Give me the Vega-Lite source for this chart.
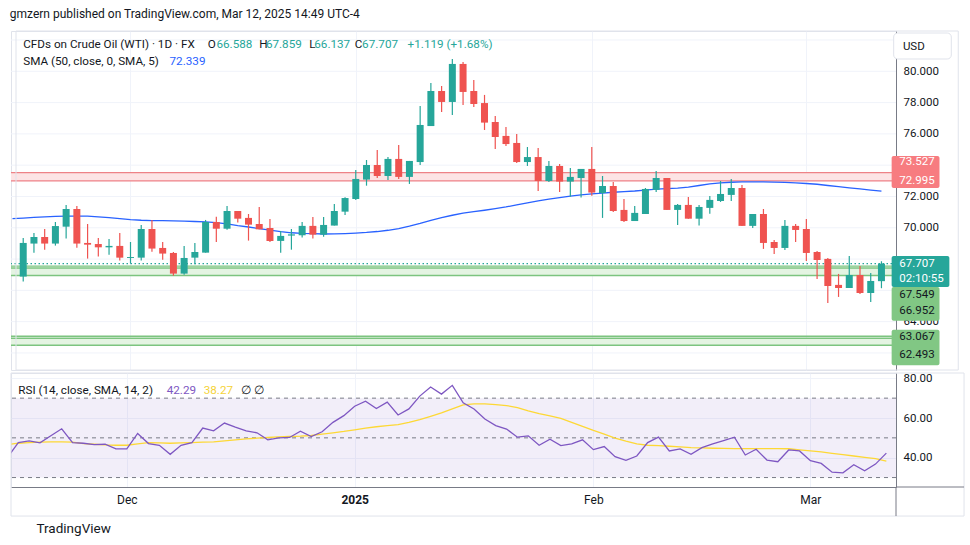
{
  "$schema": "https://vega.github.io/schema/vega-lite/v6.json",
  "background": "white",
  "padding": {"left": 9, "top": 8, "right": 0, "bottom": 0},
  "title": {"text": "gmzern published on TradingView.com, Mar 12, 2025 14:49 UTC-4", "anchor": "start", "fontSize": 12, "fontWeight": "normal", "color": "#131722", "font": "Roboto", "offset": 9},
  "config": {"font": "Roboto", "view": {"stroke": "#E0E3EB"}, "axis": {"labelFont": "Roboto"}, "text": {"font": "Roboto"}},
  "spacing": 0,
  "datasets": {
    "ohlc": [
      {"i":0,"d":"2024-11-15","sma":70.58,"rsi":40.1,"rma":46.6},
      {"i":1,"d":"2024-11-18","o":66.88,"h":69.35,"l":66.56,"c":69.03,"sma":70.62,"rsi":47.63,"rma":47.29},
      {"i":2,"d":"2024-11-19","o":68.99,"h":69.67,"l":68.41,"c":69.41,"sma":70.66,"rsi":48.48,"rma":47.63},
      {"i":3,"d":"2024-11-20","o":69.41,"h":69.92,"l":68.60,"c":68.99,"sma":70.70,"rsi":47.46,"rma":47.80},
      {"i":4,"d":"2024-11-21","o":68.99,"h":70.37,"l":68.86,"c":70.11,"sma":70.73,"rsi":51.02,"rma":47.97},
      {"i":5,"d":"2024-11-22","o":70.07,"h":71.46,"l":69.31,"c":71.20,"sma":70.75,"rsi":54.58,"rma":47.97},
      {"i":6,"d":"2024-11-25","o":71.20,"h":71.39,"l":68.73,"c":68.99,"sma":70.75,"rsi":47.63,"rma":47.80},
      {"i":7,"d":"2024-11-26","o":69.03,"h":70.24,"l":68.03,"c":68.92,"sma":70.74,"rsi":47.29,"rma":47.12},
      {"i":8,"d":"2024-11-27","o":68.96,"h":69.35,"l":68.16,"c":68.75,"sma":70.70,"rsi":46.61,"rma":46.78},
      {"i":9,"d":"2024-11-28","o":68.75,"h":69.28,"l":68.28,"c":68.84,"sma":70.65,"rsi":46.78,"rma":46.44},
      {"i":10,"d":"2024-11-29","o":68.84,"h":69.67,"l":67.90,"c":68.09,"sma":70.58,"rsi":44.41,"rma":46.27},
      {"i":11,"d":"2024-12-02","o":68.07,"h":69.09,"l":67.71,"c":68.13,"sma":70.52,"rsi":44.41,"rma":46.27},
      {"i":12,"d":"2024-12-03","o":68.09,"h":70.18,"l":67.90,"c":69.92,"sma":70.48,"rsi":52.21,"rma":46.95},
      {"i":13,"d":"2024-12-04","o":69.92,"h":70.50,"l":68.47,"c":68.67,"sma":70.46,"rsi":47.12,"rma":47.63},
      {"i":14,"d":"2024-12-05","o":68.71,"h":69.09,"l":67.96,"c":68.35,"sma":70.45,"rsi":46.27,"rma":47.46},
      {"i":15,"d":"2024-12-06","o":68.39,"h":68.45,"l":66.94,"c":67.07,"sma":70.44,"rsi":41.70,"rma":47.29},
      {"i":16,"d":"2024-12-09","o":67.07,"h":68.84,"l":67.00,"c":68.07,"sma":70.42,"rsi":46.27,"rma":47.46},
      {"i":17,"d":"2024-12-10","o":68.09,"h":69.03,"l":67.67,"c":68.45,"sma":70.40,"rsi":47.63,"rma":47.63},
      {"i":18,"d":"2024-12-11","o":68.41,"h":70.50,"l":68.41,"c":70.37,"sma":70.38,"rsi":54.92,"rma":47.80},
      {"i":19,"d":"2024-12-12","o":70.37,"h":70.71,"l":69.09,"c":69.94,"sma":70.33,"rsi":53.56,"rma":47.97},
      {"i":20,"d":"2024-12-13","o":69.94,"h":71.39,"l":69.88,"c":71.07,"sma":70.25,"rsi":57.46,"rma":48.48},
      {"i":21,"d":"2024-12-16","o":71.07,"h":71.07,"l":70.33,"c":70.58,"sma":70.14,"rsi":55.43,"rma":48.99},
      {"i":22,"d":"2024-12-17","o":70.63,"h":70.88,"l":69.18,"c":70.20,"sma":70.05,"rsi":53.56,"rma":49.50},
      {"i":23,"d":"2024-12-18","o":70.24,"h":71.33,"l":69.90,"c":69.90,"sma":69.95,"rsi":52.55,"rma":49.83},
      {"i":24,"d":"2024-12-19","o":69.99,"h":70.56,"l":69.09,"c":69.16,"sma":69.85,"rsi":49.00,"rma":50.17},
      {"i":25,"d":"2024-12-20","o":69.16,"h":69.80,"l":68.41,"c":69.48,"sma":69.75,"rsi":50.02,"rma":50.51},
      {"i":26,"d":"2024-12-23","o":69.50,"h":69.92,"l":68.60,"c":69.58,"sma":69.68,"rsi":50.19,"rma":50.68},
      {"i":27,"d":"2024-12-24","o":69.52,"h":70.37,"l":69.37,"c":70.12,"sma":69.64,"rsi":53.39,"rma":50.85},
      {"i":28,"d":"2024-12-26","o":70.12,"h":70.69,"l":69.31,"c":69.56,"sma":69.62,"rsi":50.68,"rma":51.19},
      {"i":29,"d":"2024-12-27","o":69.56,"h":70.69,"l":69.43,"c":70.18,"sma":69.60,"rsi":53.05,"rma":51.87},
      {"i":30,"d":"2024-12-30","o":70.14,"h":71.52,"l":70.14,"c":71.07,"sma":69.61,"rsi":57.80,"rma":52.55},
      {"i":31,"d":"2024-12-31","o":71.03,"h":71.95,"l":70.82,"c":71.90,"sma":69.63,"rsi":61.19,"rma":53.22},
      {"i":32,"d":"2025-01-02","o":71.84,"h":73.69,"l":71.78,"c":73.12,"sma":69.66,"rsi":65.94,"rma":54.07},
      {"i":33,"d":"2025-01-03","o":73.08,"h":74.33,"l":72.69,"c":74.01,"sma":69.70,"rsi":68.48,"rma":54.92},
      {"i":34,"d":"2025-01-06","o":74.01,"h":74.97,"l":73.18,"c":73.31,"sma":69.76,"rsi":64.75,"rma":55.60},
      {"i":35,"d":"2025-01-07","o":73.31,"h":74.52,"l":73.05,"c":74.40,"sma":69.84,"rsi":67.97,"rma":56.11},
      {"i":36,"d":"2025-01-08","o":74.40,"h":75.29,"l":73.12,"c":73.25,"sma":69.95,"rsi":61.53,"rma":56.61},
      {"i":37,"d":"2025-01-09","o":73.25,"h":74.27,"l":72.80,"c":74.27,"sma":70.10,"rsi":64.58,"rma":57.80},
      {"i":38,"d":"2025-01-10","o":74.20,"h":77.78,"l":74.01,"c":76.57,"sma":70.28,"rsi":71.02,"rma":59.16},
      {"i":39,"d":"2025-01-13","o":76.50,"h":79.25,"l":76.50,"c":78.74,"sma":70.48,"rsi":75.60,"rma":60.85},
      {"i":40,"d":"2025-01-14","o":78.74,"h":79.06,"l":77.40,"c":78.04,"sma":70.65,"rsi":72.04,"rma":62.55},
      {"i":41,"d":"2025-01-15","o":78.04,"h":80.79,"l":77.21,"c":80.47,"sma":70.80,"rsi":76.44,"rma":64.58},
      {"i":42,"d":"2025-01-16","o":80.47,"h":80.59,"l":77.85,"c":78.68,"sma":70.93,"rsi":67.63,"rma":66.61},
      {"i":43,"d":"2025-01-17","o":78.74,"h":79.44,"l":77.72,"c":77.91,"sma":71.03,"rsi":64.58,"rma":67.12},
      {"i":44,"d":"2025-01-20","o":77.97,"h":78.49,"l":76.25,"c":76.72,"sma":71.12,"rsi":59.50,"rma":67.12},
      {"i":45,"d":"2025-01-21","o":76.76,"h":77.14,"l":75.04,"c":75.80,"sma":71.22,"rsi":56.20,"rma":66.78},
      {"i":46,"d":"2025-01-22","o":75.87,"h":76.44,"l":75.23,"c":75.35,"sma":71.33,"rsi":54.41,"rma":66.27},
      {"i":47,"d":"2025-01-23","o":75.42,"h":75.99,"l":74.14,"c":74.20,"sma":71.46,"rsi":50.34,"rma":65.26},
      {"i":48,"d":"2025-01-24","o":74.20,"h":75.16,"l":73.95,"c":74.52,"sma":71.59,"rsi":51.02,"rma":63.56},
      {"i":49,"d":"2025-01-27","o":74.52,"h":75.10,"l":72.35,"c":72.99,"sma":71.72,"rsi":46.27,"rma":62.21},
      {"i":50,"d":"2025-01-28","o":72.99,"h":74.27,"l":72.93,"c":73.95,"sma":71.83,"rsi":49.33,"rma":61.02},
      {"i":51,"d":"2025-01-29","o":73.95,"h":74.08,"l":72.29,"c":72.95,"sma":71.93,"rsi":46.11,"rma":59.83},
      {"i":52,"d":"2025-01-30","o":72.95,"h":73.82,"l":71.99,"c":73.25,"sma":72.02,"rsi":46.95,"rma":57.80},
      {"i":53,"d":"2025-01-31","o":73.18,"h":73.76,"l":71.93,"c":73.76,"sma":72.10,"rsi":48.99,"rma":55.77},
      {"i":54,"d":"2025-02-03","o":73.76,"h":75.16,"l":72.05,"c":72.25,"sma":72.17,"rsi":44.07,"rma":53.73},
      {"i":55,"d":"2025-02-04","o":72.22,"h":73.31,"l":70.63,"c":72.67,"sma":72.22,"rsi":45.60,"rma":51.87},
      {"i":56,"d":"2025-02-05","o":72.67,"h":72.93,"l":71.01,"c":71.07,"sma":72.27,"rsi":40.51,"rma":49.83},
      {"i":57,"d":"2025-02-06","o":71.14,"h":71.84,"l":70.37,"c":70.43,"sma":72.31,"rsi":38.65,"rma":48.31},
      {"i":58,"d":"2025-02-07","o":70.43,"h":71.39,"l":70.43,"c":70.95,"sma":72.35,"rsi":40.85,"rma":46.95},
      {"i":59,"d":"2025-02-10","o":70.88,"h":72.54,"l":70.88,"c":72.48,"sma":72.41,"rsi":47.63,"rma":46.27},
      {"i":60,"d":"2025-02-11","o":72.42,"h":73.63,"l":72.29,"c":73.18,"sma":72.47,"rsi":50.34,"rma":46.11},
      {"i":61,"d":"2025-02-12","o":73.18,"h":73.18,"l":71.14,"c":71.14,"sma":72.50,"rsi":43.39,"rma":45.77},
      {"i":62,"d":"2025-02-13","o":71.14,"h":71.52,"l":70.18,"c":71.46,"sma":72.53,"rsi":44.41,"rma":45.43},
      {"i":63,"d":"2025-02-14","o":71.46,"h":71.97,"l":70.58,"c":70.58,"sma":72.60,"rsi":41.70,"rma":45.09},
      {"i":64,"d":"2025-02-17","o":70.58,"h":71.46,"l":70.14,"c":71.33,"sma":72.70,"rsi":45.09,"rma":44.92},
      {"i":65,"d":"2025-02-18","o":71.27,"h":72.03,"l":70.90,"c":71.78,"sma":72.80,"rsi":46.95,"rma":44.75},
      {"i":66,"d":"2025-02-19","o":71.71,"h":72.99,"l":71.65,"c":72.16,"sma":72.87,"rsi":48.65,"rma":44.66},
      {"i":67,"d":"2025-02-20","o":72.10,"h":73.12,"l":71.71,"c":72.54,"sma":72.91,"rsi":50.34,"rma":44.62},
      {"i":68,"d":"2025-02-21","o":72.54,"h":72.73,"l":70.12,"c":70.12,"sma":72.93,"rsi":41.36,"rma":44.62},
      {"i":69,"d":"2025-02-24","o":70.12,"h":70.88,"l":69.99,"c":70.88,"sma":72.93,"rsi":44.24,"rma":44.60},
      {"i":70,"d":"2025-02-25","o":70.88,"h":71.20,"l":68.65,"c":69.03,"sma":72.93,"rsi":38.82,"rma":44.58},
      {"i":71,"d":"2025-02-26","o":69.09,"h":69.22,"l":68.33,"c":68.71,"sma":72.92,"rsi":37.97,"rma":44.58},
      {"i":72,"d":"2025-02-27","o":68.71,"h":70.50,"l":68.58,"c":70.12,"sma":72.90,"rsi":43.90,"rma":44.50},
      {"i":73,"d":"2025-02-28","o":70.12,"h":70.24,"l":69.09,"c":69.86,"sma":72.87,"rsi":43.39,"rma":43.90},
      {"i":74,"d":"2025-03-03","o":69.92,"h":70.56,"l":67.88,"c":68.39,"sma":72.83,"rsi":38.48,"rma":43.39},
      {"i":75,"d":"2025-03-04","o":68.45,"h":68.52,"l":66.73,"c":67.94,"sma":72.78,"rsi":37.12,"rma":42.89},
      {"i":76,"d":"2025-03-05","o":68.01,"h":68.07,"l":65.19,"c":66.28,"sma":72.70,"rsi":32.72,"rma":42.21},
      {"i":77,"d":"2025-03-06","o":66.35,"h":67.05,"l":65.58,"c":66.15,"sma":72.63,"rsi":32.38,"rma":41.53},
      {"i":78,"d":"2025-03-07","o":66.15,"h":68.20,"l":66.15,"c":66.98,"sma":72.55,"rsi":36.44,"rma":40.85},
      {"i":79,"d":"2025-03-10","o":66.98,"h":67.56,"l":65.77,"c":65.83,"sma":72.48,"rsi":33.39,"rma":40.17},
      {"i":80,"d":"2025-03-11","o":65.83,"h":67.11,"l":65.26,"c":66.60,"sma":72.41,"rsi":36.78,"rma":39.50},
      {"i":81,"d":"2025-03-12","o":66.588,"h":67.859,"l":66.137,"c":67.707,"sma":72.339,"rsi":42.29,"rma":38.27}
    ],
    "zones": [
      {"lo":72.995,"hi":73.527,"kind":"res"},
      {"lo":66.952,"hi":67.43,"kind":"sup"},
      {"lo":62.493,"hi":62.94,"kind":"sup"}
    ],
    "zonelines": [
      {"v":73.527,"kind":"res"},{"v":72.995,"kind":"res"},
      {"v":67.549,"kind":"sup"},{"v":67.43,"kind":"sup"},{"v":66.952,"kind":"sup"},
      {"v":63.067,"kind":"sup"},{"v":62.94,"kind":"sup"},{"v":62.493,"kind":"sup"}
    ],
    "pricegrid": [{"v":62},{"v":64},{"v":66},{"v":68},{"v":70},{"v":72},{"v":74},{"v":76},{"v":78},{"v":80},{"v":82}]
  },
  "vconcat": [
    {
      "width": 885,
      "height": 339,
      "layer": [
        {
          "data": {"name": "pricegrid"},
          "mark": {"type": "rule", "stroke": "#F0F3FA", "strokeWidth": 1},
          "encoding": {
            "y": {"field": "v", "type": "quantitative", "scale": {"domain": [60.91, 82.575], "nice": false, "zero": false},
                  "axis": {"orient": "right", "values": [64,70,72,76,78,80], "format": ".3f", "title": null, "grid": false, "ticks": false, "domain": true, "domainColor": "#787B86", "labelPadding": 7, "labelFontSize": 11.5, "labelColor": "#131722", "labelAlign": "left", "labelOverlap": false, "labelBound": false}}
          }
        },
        {
          "data": {"name": "zones"},
          "mark": {"type": "rect"},
          "encoding": {
            "y": {"field": "lo", "type": "quantitative", "title": null},
            "y2": {"field": "hi"},
            "fill": {"condition": {"test": "datum.kind == 'res'", "value": "#FDE4E5"}, "value": "#E4F4E2"}
          }
        },
        {
          "data": {"name": "ohlc"},
          "mark": {"type": "rule", "opacity": 0},
          "encoding": {
            "x": {"field": "i", "type": "quantitative", "scale": {"domain": [0.327, 81.89], "nice": false, "zero": false},
                  "axis": {"values": [11, 32, 54, 74], "labels": false, "ticks": false, "domain": false, "grid": true, "gridColor": "#F0F3FA", "title": null}},
            "y": {"field": "c", "type": "quantitative", "title": null}
          }
        },
        {
          "data": {"name": "zonelines"},
          "mark": {"type": "rule", "strokeWidth": 1.4},
          "encoding": {
            "y": {"field": "v", "type": "quantitative", "title": null},
            "color": {"condition": {"test": "datum.kind == 'res'", "value": "#EE8287"}, "value": "#7CC47F"}
          }
        },
        {
          "data": {"values": [{}]},
          "mark": {"type": "rule", "stroke": "#26A69A", "strokeWidth": 1.4, "strokeDash": [1.5, 2.5]},
          "encoding": {"y": {"datum": 67.707, "type": "quantitative"}}
        },
        {
          "data": {"name": "ohlc"},
          "mark": {"type": "line", "stroke": "#2962FF", "strokeWidth": 1.3, "clip": true},
          "encoding": {
            "x": {"field": "i", "type": "quantitative"},
            "y": {"field": "sma", "type": "quantitative", "title": null}
          }
        },
        {
          "data": {"name": "ohlc"},
          "transform": [{"filter": "isValid(datum.o)"}],
          "mark": {"type": "rule", "strokeWidth": 1.2},
          "encoding": {
            "x": {"field": "i", "type": "quantitative"},
            "y": {"field": "l", "type": "quantitative", "title": null},
            "y2": {"field": "h"},
            "color": {"condition": {"test": "datum.c >= datum.o", "value": "#26A69A"}, "value": "#EF5350"}
          }
        },
        {
          "data": {"name": "ohlc"},
          "transform": [{"filter": "isValid(datum.o)"}],
          "mark": {"type": "bar", "size": 7},
          "encoding": {
            "x": {"field": "i", "type": "quantitative"},
            "y": {"field": "o", "type": "quantitative", "title": null},
            "y2": {"field": "c"},
            "color": {"condition": {"test": "datum.c >= datum.o", "value": "#26A69A"}, "value": "#EF5350"}
          }
        },
        {"data": {"values": [{}]}, "mark": {"type": "rect", "fill": null, "fillOpacity": 0, "stroke": "#E0E3EB", "strokeWidth": 1},
         "encoding": {"x": {"datum": 0.327, "type": "quantitative"}, "x2": {"datum": 88.16}, "y": {"datum": 82.575, "type": "quantitative"}, "y2": {"datum": 60.91}}},
        {"data": {"values": [{}]}, "mark": {"type": "text", "text": "CFDs on Crude Oil (WTI) · 1D · FX", "align": "left", "baseline": "middle", "fontSize": 11.7, "color": "#131722"},
         "encoding": {"x": {"datum": 1.0, "type": "quantitative"}, "y": {"datum": 81.725, "type": "quantitative"}}},
        {"data": {"values": [{}]}, "mark": {"type": "text", "text": "O", "align": "left", "baseline": "middle", "fontSize": 11.7, "color": "#131722"},
         "encoding": {"x": {"datum": 18.21, "type": "quantitative"}, "y": {"datum": 81.725, "type": "quantitative"}}},
        {"data": {"values": [{}]}, "mark": {"type": "text", "text": "66.588", "align": "left", "baseline": "middle", "fontSize": 11.7, "color": "#26A69A"},
         "encoding": {"x": {"datum": 19.01, "type": "quantitative"}, "y": {"datum": 81.725, "type": "quantitative"}}},
        {"data": {"values": [{}]}, "mark": {"type": "text", "text": "H", "align": "left", "baseline": "middle", "fontSize": 11.7, "color": "#131722"},
         "encoding": {"x": {"datum": 23.0, "type": "quantitative"}, "y": {"datum": 81.725, "type": "quantitative"}}},
        {"data": {"values": [{}]}, "mark": {"type": "text", "text": "67.859", "align": "left", "baseline": "middle", "fontSize": 11.7, "color": "#26A69A"},
         "encoding": {"x": {"datum": 23.62, "type": "quantitative"}, "y": {"datum": 81.725, "type": "quantitative"}}},
        {"data": {"values": [{}]}, "mark": {"type": "text", "text": "L", "align": "left", "baseline": "middle", "fontSize": 11.7, "color": "#131722"},
         "encoding": {"x": {"datum": 27.67, "type": "quantitative"}, "y": {"datum": 81.725, "type": "quantitative"}}},
        {"data": {"values": [{}]}, "mark": {"type": "text", "text": "66.137", "align": "left", "baseline": "middle", "fontSize": 11.7, "color": "#26A69A"},
         "encoding": {"x": {"datum": 28.13, "type": "quantitative"}, "y": {"datum": 81.725, "type": "quantitative"}}},
        {"data": {"values": [{}]}, "mark": {"type": "text", "text": "C", "align": "left", "baseline": "middle", "fontSize": 11.7, "color": "#131722"},
         "encoding": {"x": {"datum": 31.91, "type": "quantitative"}, "y": {"datum": 81.725, "type": "quantitative"}}},
        {"data": {"values": [{}]}, "mark": {"type": "text", "text": "67.707", "align": "left", "baseline": "middle", "fontSize": 11.7, "color": "#26A69A"},
         "encoding": {"x": {"datum": 32.59, "type": "quantitative"}, "y": {"datum": 81.725, "type": "quantitative"}}},
        {"data": {"values": [{}]}, "mark": {"type": "text", "text": "+1.119 (+1.68%)", "align": "left", "baseline": "middle", "fontSize": 11.7, "color": "#26A69A"},
         "encoding": {"x": {"datum": 36.83, "type": "quantitative"}, "y": {"datum": 81.725, "type": "quantitative"}}},
        {"data": {"values": [{}]}, "mark": {"type": "text", "text": "SMA (50, close, 0, SMA, 5)", "align": "left", "baseline": "middle", "fontSize": 11.7, "color": "#131722"},
         "encoding": {"x": {"datum": 1.0, "type": "quantitative"}, "y": {"datum": 80.64, "type": "quantitative"}}},
        {"data": {"values": [{}]}, "mark": {"type": "text", "text": "72.339", "align": "left", "baseline": "middle", "fontSize": 11.7, "color": "#2962FF"},
         "encoding": {"x": {"datum": 14.64, "type": "quantitative"}, "y": {"datum": 80.64, "type": "quantitative"}}},
        {"data": {"values": [{}]}, "mark": {"type": "rect", "fill": "white", "stroke": "#E0E3EB", "cornerRadius": 4},
         "encoding": {"x": {"datum": 82.14, "type": "quantitative"}, "x2": {"datum": 87.51}, "y": {"datum": 82.447, "type": "quantitative"}, "y2": {"datum": 80.786}}},
        {"data": {"values": [{}]}, "mark": {"type": "text", "text": "USD", "align": "left", "baseline": "middle", "fontSize": 11.5, "color": "#131722"},
         "encoding": {"x": {"datum": 83.0, "type": "quantitative"}, "y": {"datum": 81.553, "type": "quantitative"}}},
        {"data": {"values": [{}]}, "mark": {"type": "rect", "fill": "#F77C80", "cornerRadius": 2},
         "encoding": {"x": {"datum": 81.95, "type": "quantitative"}, "x2": {"datum": 86.41}, "y": {"datum": 74.588, "type": "quantitative"}, "y2": {"datum": 72.543}}},
        {"data": {"values": [{}]}, "mark": {"type": "rect", "fill": "#26A69A", "cornerRadius": 2},
         "encoding": {"x": {"datum": 81.95, "type": "quantitative"}, "x2": {"datum": 87.33}, "y": {"datum": 68.198, "type": "quantitative"}, "y2": {"datum": 66.217}}},
        {"data": {"values": [{}]}, "mark": {"type": "rect", "fill": "#81C784", "cornerRadius": 2},
         "encoding": {"x": {"datum": 81.95, "type": "quantitative"}, "x2": {"datum": 86.41}, "y": {"datum": 66.217, "type": "quantitative"}, "y2": {"datum": 64.064}}},
        {"data": {"values": [{}]}, "mark": {"type": "rect", "fill": "#81C784", "cornerRadius": 2},
         "encoding": {"x": {"datum": 81.95, "type": "quantitative"}, "x2": {"datum": 86.41}, "y": {"datum": 63.489, "type": "quantitative"}, "y2": {"datum": 61.214}}},
        {"data": {"values": [{}]}, "mark": {"type": "text", "text": "73.527", "align": "left", "baseline": "middle", "fontSize": 11.5, "color": "white"},
         "encoding": {"x": {"datum": 82.66, "type": "quantitative"}, "y": {"datum": 74.185, "type": "quantitative"}}},
        {"data": {"values": [{}]}, "mark": {"type": "text", "text": "72.995", "align": "left", "baseline": "middle", "fontSize": 11.5, "color": "white"},
         "encoding": {"x": {"datum": 82.66, "type": "quantitative"}, "y": {"datum": 72.99, "type": "quantitative"}}},
        {"data": {"values": [{}]}, "mark": {"type": "text", "text": "67.707", "align": "left", "baseline": "middle", "fontSize": 11.5, "color": "white"},
         "encoding": {"x": {"datum": 82.66, "type": "quantitative"}, "y": {"datum": 67.668, "type": "quantitative"}}},
        {"data": {"values": [{}]}, "mark": {"type": "text", "text": "02:10:55", "align": "left", "baseline": "middle", "fontSize": 11.5, "color": "white"},
         "encoding": {"x": {"datum": 82.66, "type": "quantitative"}, "y": {"datum": 66.748, "type": "quantitative"}}},
        {"data": {"values": [{}]}, "mark": {"type": "text", "text": "67.549", "align": "left", "baseline": "middle", "fontSize": 11.5, "color": "#131722"},
         "encoding": {"x": {"datum": 82.66, "type": "quantitative"}, "y": {"datum": 65.687, "type": "quantitative"}}},
        {"data": {"values": [{}]}, "mark": {"type": "text", "text": "66.952", "align": "left", "baseline": "middle", "fontSize": 11.5, "color": "#131722"},
         "encoding": {"x": {"datum": 82.66, "type": "quantitative"}, "y": {"datum": 64.66, "type": "quantitative"}}},
        {"data": {"values": [{}]}, "mark": {"type": "text", "text": "63.067", "align": "left", "baseline": "middle", "fontSize": 11.5, "color": "#131722"},
         "encoding": {"x": {"datum": 82.66, "type": "quantitative"}, "y": {"datum": 63.022, "type": "quantitative"}}},
        {"data": {"values": [{}]}, "mark": {"type": "text", "text": "62.493", "align": "left", "baseline": "middle", "fontSize": 11.5, "color": "#131722"},
         "encoding": {"x": {"datum": 82.66, "type": "quantitative"}, "y": {"datum": 61.891, "type": "quantitative"}}}
      ]
    },
    {
      "width": 885,
      "height": 114,
      "title": {"text": "TradingView", "orient": "bottom", "anchor": "start", "fontSize": 13.5, "fontWeight": "normal", "color": "#131722", "offset": 5, "dx": 26},
      "layer": [
        {
          "data": {"values": [{}]},
          "mark": {"type": "rect", "fill": "#7E57C2", "opacity": 0.1},
          "encoding": {
            "y": {"datum": 30, "type": "quantitative", "scale": {"domain": [25.24, 82.67], "nice": false, "zero": false},
                  "axis": {"orient": "right", "values": [40, 60, 80], "format": ".2f", "title": null, "grid": true, "gridColor": "#F0F3FA", "ticks": false, "domain": true, "domainColor": "#787B86", "labelPadding": 7, "labelFontSize": 11.5, "labelColor": "#131722", "labelAlign": "left", "labelOverlap": false, "labelBound": false}},
            "y2": {"datum": 70}
          }
        },
        {
          "data": {"values": [{"v": 30}, {"v": 50}, {"v": 70}]},
          "mark": {"type": "rule", "stroke": "#787B86", "strokeWidth": 1, "strokeDash": [4, 4]},
          "encoding": {"y": {"field": "v", "type": "quantitative", "title": null}}
        },
        {
          "data": {"name": "ohlc"},
          "mark": {"type": "line", "stroke": "#FDD835", "strokeWidth": 1.3, "clip": true},
          "encoding": {
            "x": {"field": "i", "type": "quantitative", "scale": {"domain": [0.327, 81.89], "nice": false, "zero": false},
                  "axis": {"values": [11, 32, 54, 74], "labelExpr": "datum.value == 11 ? 'Dec' : datum.value == 32 ? '2025' : datum.value == 54 ? 'Feb' : 'Mar'", "labelFontWeight": {"condition": {"test": "datum.value == 32", "value": "bold"}, "value": "normal"}, "labelFontSize": 12, "labelColor": "#131722", "labelPadding": 7, "ticks": false, "domain": true, "domainColor": "#787B86", "grid": true, "gridColor": "#F0F3FA", "title": null, "labelFlush": false, "labelOverlap": false}},
            "y": {"field": "rma", "type": "quantitative", "title": null}
          }
        },
        {
          "data": {"name": "ohlc"},
          "mark": {"type": "line", "stroke": "#7E57C2", "strokeWidth": 1.3, "clip": true},
          "encoding": {
            "x": {"field": "i", "type": "quantitative"},
            "y": {"field": "rsi", "type": "quantitative", "title": null}
          }
        },
        {"data": {"values": [{}]}, "mark": {"type": "rect", "fill": null, "fillOpacity": 0, "stroke": "#E0E3EB", "strokeWidth": 1},
         "encoding": {"x": {"datum": 0.327, "type": "quantitative"}, "x2": {"datum": 88.16}, "y": {"datum": 82.67, "type": "quantitative"}, "y2": {"datum": 10.6}}},
        {"data": {"values": [{}]}, "mark": {"type": "rule", "stroke": "#787B86", "strokeWidth": 1},
         "encoding": {"x": {"datum": 81.89, "type": "quantitative"}, "y": {"datum": 25.24, "type": "quantitative"}, "y2": {"datum": 10.6}}},
        {"data": {"values": [{}]}, "mark": {"type": "rule", "stroke": "#787B86", "strokeWidth": 1},
         "encoding": {"x": {"datum": 81.89, "type": "quantitative"}, "x2": {"datum": 88.16}, "y": {"datum": 25.24, "type": "quantitative"}}},
        {"data": {"values": [{}]}, "mark": {"type": "text", "text": "RSI (14, close, SMA, 14, 2)", "align": "left", "baseline": "middle", "fontSize": 11.7, "color": "#131722"},
         "encoding": {"x": {"datum": 1.0, "type": "quantitative"}, "y": {"datum": 74.11, "type": "quantitative"}}},
        {"data": {"values": [{}]}, "mark": {"type": "text", "text": "42.29", "align": "left", "baseline": "middle", "fontSize": 11.7, "color": "#7E57C2"},
         "encoding": {"x": {"datum": 14.68, "type": "quantitative"}, "y": {"datum": 74.11, "type": "quantitative"}}},
        {"data": {"values": [{}]}, "mark": {"type": "text", "text": "38.27", "align": "left", "baseline": "middle", "fontSize": 11.7, "color": "#F5D33A"},
         "encoding": {"x": {"datum": 18.09, "type": "quantitative"}, "y": {"datum": 74.11, "type": "quantitative"}}},
        {"data": {"values": [{}]}, "mark": {"type": "text", "text": "∅  ∅", "align": "left", "baseline": "middle", "fontSize": 11.7, "color": "#131722"},
         "encoding": {"x": {"datum": 21.53, "type": "quantitative"}, "y": {"datum": 74.11, "type": "quantitative"}}}
      ]
    }
  ]
}
